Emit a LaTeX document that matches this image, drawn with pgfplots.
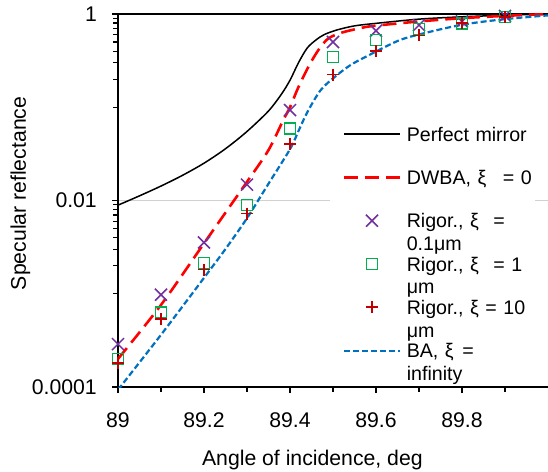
\documentclass[border=0pt]{standalone}
\usepackage{fontspec}
\setmainfont{Liberation Sans}
\usepackage{pgfplots}
\pgfplotsset{compat=1.18}
\definecolor{cpur}{HTML}{7030A0}
\definecolor{cgrn}{HTML}{00B050}
\definecolor{cdred}{HTML}{C00000}
\definecolor{cred}{HTML}{FF0000}
\definecolor{cblue}{HTML}{0070C0}
\pgfplotsset{mylegimg/.style={legend image code/.code={\path (0bp,0bp); \draw[mark repeat=2,mark phase=2,##1] plot coordinates {(13bp,0bp)(40.5bp,0bp)(68bp,0bp)};}}}
\begin{document}
\begin{tikzpicture}
\useasboundingbox (0,0) rectangle (548bp,472bp);
\begin{axis}[
  at={(118bp,85bp)}, anchor=south west,
  scale only axis, width=430bp, height=373bp,
  xmin=89, xmax=90, ymode=log, ymin=1e-4, ymax=1,
  xtick={89,89.2,89.4,89.6,89.8},
  xticklabels={89,89.2,89.4,89.6,89.8},
  minor xtick={89.1,89.3,89.5,89.7,89.9},
  ytick={1e-4,1e-2,1},
  yticklabels={0.0001,0.01,1},
  minor ytick={0.001,0.002,0.003,0.004,0.005,0.006,0.007,0.008,0.009,0.1,0.2,0.3,0.4,0.5,0.6,0.7,0.8,0.9},
  axis x line=box, axis y line*=left,
  xtick pos=bottom, ytick pos=left,
  tick align=outside,
  major tick length=6bp, minor tick length=5bp,
  every tick/.style={black, line width=1.2bp},
  axis line style={line width=2bp},
  ymajorgrids, major grid style={black!18, line width=1bp},
  tick label style={font=\fontsize{21.3}{25}\selectfont},
  yticklabel style={anchor=east, inner sep=0pt, xshift=-15bp},
  xticklabel style={anchor=north, inner sep=0pt, yshift=-19bp},
  xlabel={Angle of incidence, deg},
  ylabel={Specular reflectance},
  every axis x label/.style={at={(axis description cs:0.452,0)}, anchor=base, yshift=-78bp, font=\fontsize{21.3}{25}\selectfont},
  every axis y label/.style={at={(axis description cs:-0.214,0.519)}, rotate=90, anchor=base, font=\fontsize{21.3}{25}\selectfont},
  mylegimg,
  legend image post style={yshift=7bp},
  legend style={draw=none, fill=white, inner sep=0pt, column sep=6bp, row sep=0pt,
    at={(axis description cs:0.493,0.7)}, anchor=north west,
    font=\fontsize{19.7}{23}\selectfont,
    cells={anchor=base west},
    nodes={text width=128bp, align=left, inner sep=0pt, text height=15bp, text depth=28.3bp}},
]
\addplot[black, line width=1.5bp, smooth, tension=0.5] coordinates {
(89.0,0.00891)(89.05,0.01122)(89.1,0.01429)(89.15,0.01862)(89.2,0.02512)(89.25,0.0359)
(89.3,0.0550)(89.35,0.0912)(89.38,0.138)(89.4,0.195)(89.42,0.302)(89.44,0.4315)
(89.46,0.525)(89.48,0.6026)(89.51,0.676)(89.55,0.746)(89.6,0.794)(89.7,0.881)
(89.8,0.933)(89.9,0.970)(90,1)};
\addlegendentry{Perfect mirror}
\addplot[cred, line width=2.6bp, dash pattern=on 14bp off 7bp, smooth, tension=0.5] coordinates {
(89.0,0.000200)(89.1,0.000759)(89.2,0.00347)(89.3,0.01585)(89.35,0.0347)(89.384,0.0724)
(89.4,0.100)(89.42,0.166)(89.447,0.295)(89.47,0.4365)(89.49,0.5495)(89.52,0.631)
(89.57,0.716)(89.6,0.750)(89.7,0.832)(89.8,0.902)(89.9,0.955)(90,1)};
\addlegendentry{\mbox{DWBA, ξ\hspace{10bp} = 0}}
\addplot[only marks, mylegimg, mark=x, mark size=8.5bp, cpur, line width=1.5bp] coordinates {
(89.0,0.000288)(89.1,0.000977)(89.2,0.00355)(89.3,0.01479)(89.4,0.0933)(89.5,0.501)
(89.6,0.661)(89.7,0.759)(89.8,0.832)(89.9,0.955)};
\addlegendentry{\mbox{Rigor., ξ\hspace{8bp} =}\\0.1μm}
\addplot[only marks, mylegimg, mark=square, mark size=5.5bp, cgrn, line width=1.6bp] coordinates {
(89.0,0.000200)(89.1,0.000631)(89.2,0.00214)(89.3,0.00891)(89.4,0.0589)(89.5,0.347)
(89.6,0.525)(89.7,0.692)(89.8,0.794)(89.9,0.933)};
\addlegendentry{\mbox{Rigor., ξ\hspace{8bp} = 1}\\μm}
\addplot[only marks, mylegimg, mark=+, mark size=6bp, cdred, line width=1.8bp] coordinates {
(89.0,0.000182)(89.1,0.000537)(89.2,0.00182)(89.3,0.00724)(89.4,0.0407)(89.5,0.224)
(89.6,0.398)(89.7,0.589)(89.8,0.794)(89.9,0.933)};
\addlegendentry{\mbox{Rigor., ξ = 10}\\μm}
\addplot[cblue, line width=2.2bp, dash pattern=on 6bp off 3bp, smooth, tension=0.5] coordinates {
(89.0,0.0000933)(89.1,0.000363)(89.2,0.00148)(89.25,0.00302)(89.3,0.00646)(89.35,0.01514)
(89.4,0.0355)(89.42,0.0560)(89.44,0.0880)(89.47,0.150)(89.5,0.204)(89.54,0.282)
(89.58,0.355)(89.65,0.513)(89.7,0.603)(89.8,0.767)(89.9,0.881)(90,0.966)};
\addlegendentry{\mbox{BA, ξ\hspace{2bp} =}\\infinity}
\end{axis}
\end{tikzpicture}
\end{document}
